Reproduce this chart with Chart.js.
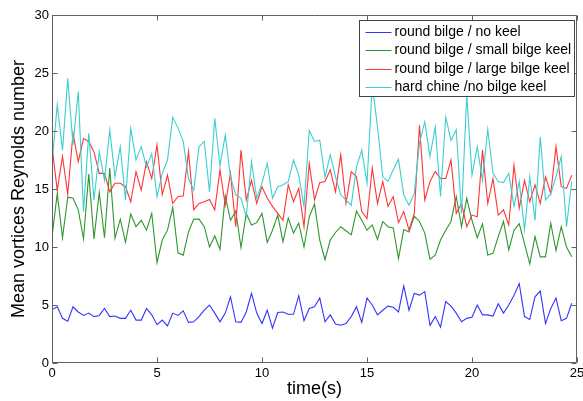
<!DOCTYPE html>
<html>
<head>
<meta charset="utf-8">
<script src="https://cdn.jsdelivr.net/npm/chart.js@4"></script>
<style>
  html, body { margin: 0; padding: 0; background: #fff; }
  #chart { display: block; }
</style>
</head>
<body>
<canvas id="chart" width="583" height="401"></canvas>
<script>
var times = [
    0, 0.25, 0.5, 0.75, 1, 1.25, 1.5, 1.75, 2, 2.25,
    2.5, 2.75, 3, 3.25, 3.5, 3.75, 4, 4.25, 4.5, 4.75,
    5, 5.25, 5.5, 5.75, 6, 6.25, 6.5, 6.75, 7, 7.25,
    7.5, 7.75, 8, 8.25, 8.5, 8.75, 9, 9.25, 9.5, 9.75,
    10, 10.25, 10.5, 10.75, 11, 11.25, 11.5, 11.75, 12, 12.25,
    12.5, 12.75, 13, 13.25, 13.5, 13.75, 14, 14.25, 14.5, 14.75,
    15, 15.25, 15.5, 15.75, 16, 16.25, 16.5, 16.75, 17, 17.25,
    17.5, 17.75, 18, 18.25, 18.5, 18.75, 19, 19.25, 19.5, 19.75,
    20, 20.25, 20.5, 20.75, 21, 21.25, 21.5, 21.75, 22, 22.25,
    22.5, 22.75, 23, 23.25, 23.5, 23.75, 24, 24.25, 24.5, 24.75
];

var noKeel = [
    4.6, 4.85, 3.85, 3.6, 4.85, 4.4, 4.1, 4.3, 4.0, 4.1,
    4.7, 4.0, 4.05, 3.85, 3.85, 4.55, 3.7, 3.7, 4.7, 4.15,
    3.3, 3.7, 3.2, 4.3, 4.1, 4.5, 3.5, 3.55, 4.0, 4.55,
    5.0, 4.3, 3.55, 4.3, 5.7, 3.55, 3.5, 4.4, 6.0, 4.3,
    3.4, 4.55, 3.0, 4.35, 4.4, 4.2, 4.2, 5.8, 3.65, 4.7,
    4.85, 5.6, 3.55, 4.15, 3.35, 3.25, 3.4, 4.0, 4.85, 3.5,
    5.6, 5.0, 4.15, 4.55, 4.9, 4.8, 4.4, 6.65, 4.55, 6.0,
    5.85, 6.15, 3.25, 4.0, 3.1, 5.3, 4.9, 4.3, 3.55, 3.85,
    3.95, 5.0, 4.15, 4.15, 4.05, 5.1, 4.3, 5.0, 5.85, 6.85,
    4.0, 3.75, 5.7, 6.2, 3.4, 4.7, 5.6, 3.65, 3.85, 5.15
];

var smallKeel = [
    10.9, 14.6, 10.8, 14.3, 14.2, 13.2, 10.7, 16.3, 10.7, 14.7,
    10.8, 16.8, 10.75, 12.4, 10.4, 12.85, 11.75, 12.3, 11.45, 12.9,
    8.65, 10.6, 11.45, 13.4, 9.5, 9.3, 11.3, 12.4, 12.4, 11.75,
    10.0, 10.95, 9.8, 14.4, 12.3, 13.1, 9.95, 12.9, 11.9, 12.1,
    12.9, 10.4, 11.45, 12.75, 10.45, 12.5, 11.2, 12.05, 10.0, 12.6,
    13.7, 10.6, 8.9, 10.6, 11.25, 11.75, 11.4, 11.05, 13.1, 12.3,
    11.45, 11.9, 10.65, 12.2, 11.75, 11.65, 9.0, 11.5, 11.3, 12.65,
    12.2, 11.2, 8.95, 9.3, 10.6, 11.45, 12.2, 14.35, 11.75, 14.2,
    12.3, 10.8, 12.0, 9.3, 9.45, 10.9, 12.2, 9.75, 11.45, 12.0,
    10.3, 8.55, 10.9, 9.15, 9.15, 12.05, 9.7, 11.75, 10.0, 9.15
];

var largeKeel = [
    18.65, 14.9, 17.8, 14.55, 19.8, 17.35, 19.35, 19.1, 18.2, 16.35,
    16.35, 14.75, 15.5, 15.5, 15.2, 13.9, 16.5, 14.9, 17.35, 15.9,
    18.8, 14.5, 16.2, 13.75, 14.35, 14.4, 18.2, 13.2, 13.75, 13.9,
    14.1, 13.2, 16.65, 13.6, 16.35, 11.75, 18.35, 14.05, 15.75, 13.75,
    15.2, 14.2, 13.5, 12.9, 12.3, 15.35, 13.9, 15.05, 11.75, 17.2,
    14.05, 15.55, 15.65, 16.65, 14.75, 17.95, 13.75, 16.5, 16.05, 13.05,
    12.45, 16.8, 13.75, 15.65, 13.5, 14.35, 12.1, 13.05, 11.45, 12.9,
    20.5, 14.05, 15.65, 16.5, 15.9, 15.9, 17.5, 12.9, 13.75, 11.75,
    12.75, 12.6, 18.35, 13.75, 15.9, 12.75, 13.2, 11.9, 17.05, 13.35,
    15.75, 13.9, 15.35, 13.75, 16.05, 14.6, 18.65, 15.2, 15.05, 16.2
];

var hardChine = [
    17.2, 22.25, 18.35, 24.55, 18.8, 23.4, 13.05, 19.8, 14.05, 18.2,
    15.75, 20.1, 16.05, 18.65, 14.05, 20.25, 17.5, 18.65, 16.9, 18.05,
    14.35, 16.35, 17.5, 21.2, 20.25, 19.1, 15.9, 14.9, 18.65, 19.1,
    14.75, 21.1, 17.0, 19.65, 16.05, 14.5, 14.2, 12.6, 17.35, 14.2,
    15.5, 17.2, 14.2, 15.2, 15.35, 15.65, 17.5, 16.2, 13.5, 20.05,
    19.1, 19.2, 16.05, 17.95, 16.05, 14.5, 14.05, 13.6, 16.9, 18.35,
    15.5, 24.0, 20.35, 16.05, 15.65, 16.65, 17.55, 14.5, 13.6, 14.6,
    18.95, 20.8, 17.8, 20.35, 14.35, 21.2, 19.2, 20.1, 12.9, 23.1,
    16.2, 18.65, 15.75, 20.15, 16.35, 15.65, 15.55, 16.35, 13.5, 15.65,
    11.45, 16.05, 12.3, 19.5, 14.05, 14.6, 16.05, 17.8, 11.75, 15.65
];

var seriesLabels = [
    'round bilge / no keel',
    'round bilge / small bilge keel',
    'round bilge / large bilge keel',
    'hard chine /no bilge keel'
];
var xTicks = [0, 5, 10, 15, 20, 25];
var yTicks = [0, 5, 10, 15, 20, 25, 30];

var FONT = '"Liberation Sans", Arial, Helvetica, sans-serif';
var colors = {
    blue: '#3434ff',
    green: '#2e962e',
    red: '#ff3434',
    cyan: '#3ccfcf',
    frame: '#606060',
    text: '#000000'
};

function points(values) {
    return values.map(function(v, i) {
        return { x: times[i], y: v };
    });
}

function makeSet(label, values, color, order) {
    return {
        label: label,
        data: points(values),
        borderColor: color,
        backgroundColor: color,
        borderWidth: 1.1,
        pointRadius: 0,
        tension: 0,
        fill: false,
        order: order
    };
}

// matlab-ish box with inward tick marks
var boxPlugin = {
    id: 'matlabBox',
    afterDatasetsDraw: function(chart) {
        var ctx = chart.ctx;
        var a = chart.chartArea;
        var xs = chart.scales.x;
        var ys = chart.scales.y;
        var len = 5;
        var l = a.left + 0.5, r = a.right - 0.5, t = a.top + 0.5, b = a.bottom - 0.5;

        ctx.save();
        ctx.strokeStyle = colors.frame;
        ctx.lineWidth = 1;
        ctx.beginPath();
        ctx.rect(l, t, r - l, b - t);

        xTicks.forEach(function(v) {
            var px = Math.round(xs.getPixelForValue(v)) + 0.5;
            ctx.moveTo(px, b); ctx.lineTo(px, b - len);
            ctx.moveTo(px, t); ctx.lineTo(px, t + len);
        });
        yTicks.forEach(function(v) {
            var py = Math.round(ys.getPixelForValue(v)) + 0.5;
            ctx.moveTo(l, py); ctx.lineTo(l + len, py);
            ctx.moveTo(r, py); ctx.lineTo(r - len, py);
        });
        ctx.stroke();
        ctx.restore();
    }
};

var legendPlugin = {
    id: 'boxLegend',
    afterDraw: function(chart) {
        var ctx = chart.ctx;
        var a = chart.chartArea;
        var sets = chart.data.datasets;
        var rowH = 18.4;
        var sample = 26;

        ctx.save();
        ctx.font = '14px ' + FONT;
        var maxW = 0;
        sets.forEach(function(ds) {
            maxW = Math.max(maxW, ctx.measureText(ds.label).width);
        });

        var w = Math.round(6 + sample + 3 + maxW + 4);
        var h = 76;
        var right = a.right - 2.5;
        var left = Math.round(right - w) + 0.5;
        var top = a.top + 5.5;

        ctx.fillStyle = '#ffffff';
        ctx.fillRect(left, top, right - left, h);
        ctx.strokeStyle = '#444444';
        ctx.lineWidth = 1;
        ctx.strokeRect(left, top, right - left, h);

        ctx.textBaseline = 'middle';
        ctx.textAlign = 'left';
        sets.forEach(function(ds, i) {
            var y = Math.round(top + 11.5 + i * rowH) + 0.5;
            ctx.strokeStyle = ds.borderColor;
            ctx.beginPath();
            ctx.moveTo(left + 6, y);
            ctx.lineTo(left + 6 + sample, y);
            ctx.stroke();
            ctx.fillStyle = colors.text;
            ctx.fillText(ds.label, left + 6 + sample + 3, y);
        });
        ctx.restore();
    }
};

new Chart(document.getElementById('chart').getContext('2d'), {
    type: 'line',
    data: {
        datasets: [
            makeSet(seriesLabels[0], noKeel, colors.blue, 3),
            makeSet(seriesLabels[1], smallKeel, colors.green, 2),
            makeSet(seriesLabels[2], largeKeel, colors.red, 1),
            makeSet(seriesLabels[3], hardChine, colors.cyan, 0)
        ]
    },
    options: {
        responsive: false,
        animation: false,
        devicePixelRatio: 1,
        layout: {
            padding: { left: 0, right: 6, top: 15, bottom: 0 }
        },
        plugins: {
            legend: { display: false },
            tooltip: { enabled: false }
        },
        scales: {
            x: {
                type: 'linear',
                min: 0,
                max: 25,
                grid: { display: false, drawTicks: false },
                border: { display: false },
                afterBuildTicks: function(s) {
                    s.ticks = xTicks.map(function(v) { return { value: v }; });
                },
                ticks: {
                    color: colors.text,
                    font: { family: FONT, size: 13 },
                    padding: 3,
                    maxRotation: 0,
                    autoSkip: false
                },
                title: {
                    display: true,
                    text: 'time(s)',
                    color: colors.text,
                    font: { family: FONT, size: 18 },
                    padding: { top: 0, bottom: 1 }
                },
                afterFit: function(s) {
                    s.height = 38;
                    s.paddingLeft = 0;
                    s.paddingRight = 0;
                }
            },
            y: {
                min: 0,
                max: 30,
                grid: { display: false, drawTicks: false },
                border: { display: false },
                afterBuildTicks: function(s) {
                    s.ticks = yTicks.map(function(v) { return { value: v }; });
                },
                ticks: {
                    color: colors.text,
                    font: { family: FONT, size: 13 },
                    padding: 3,
                    autoSkip: false
                },
                title: {
                    display: true,
                    text: 'Mean vortices Reynolds number',
                    color: colors.text,
                    font: { family: FONT, size: 18 },
                    padding: { top: 8, bottom: 0 }
                },
                afterFit: function(s) {
                    s.width = 52;
                    s.paddingTop = 0;
                    s.paddingBottom = 0;
                }
            }
        }
    },
    plugins: [boxPlugin, legendPlugin]
});
</script>
</body>
</html>
